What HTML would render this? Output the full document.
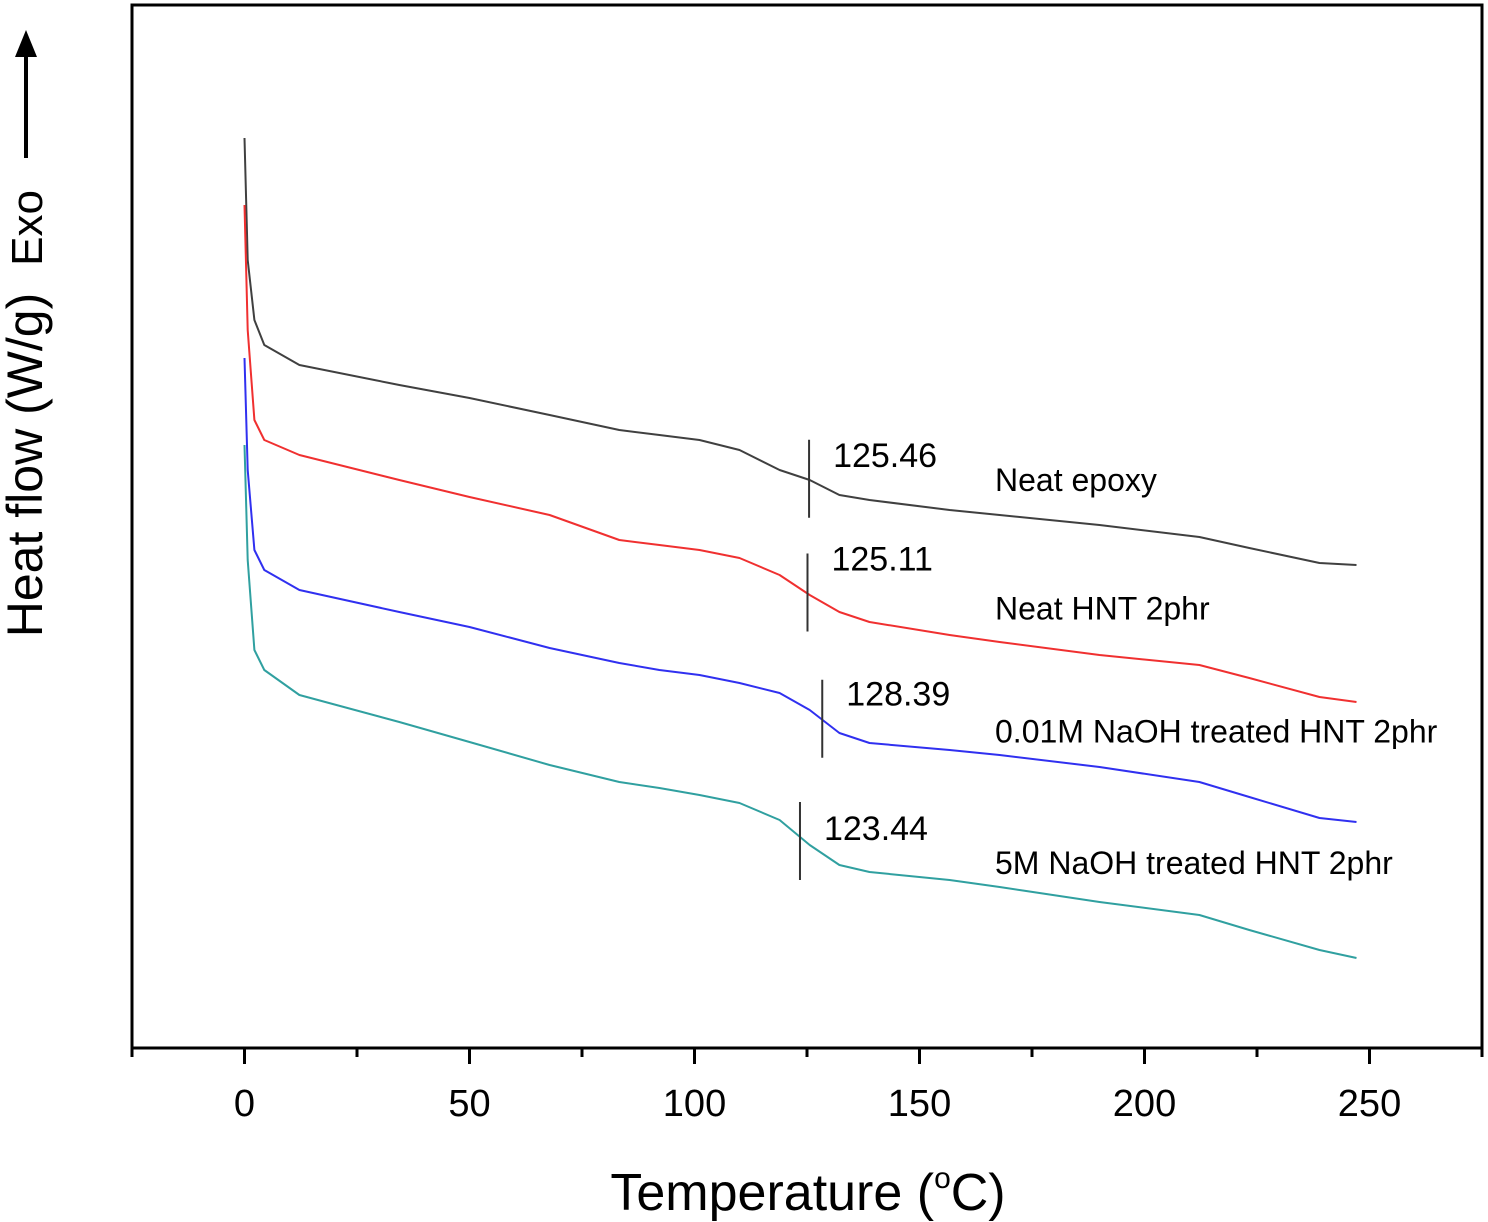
<!DOCTYPE html>
<html><head><meta charset="utf-8">
<style>
html,body{margin:0;padding:0;background:#fff;}
svg{display:block;font-family:"Liberation Sans",Arial,sans-serif;}
</style></head>
<body>
<svg id="chart" width="1488" height="1222" viewBox="0 0 1488 1222" xmlns="http://www.w3.org/2000/svg">
  <rect x="132" y="5" width="1350" height="1043" fill="none" stroke="#000" stroke-width="3"/>
  <g id="xticks"></g>
  <g id="series"></g>
  <g id="annot"></g>
  <text x="808" y="1210" font-size="52" text-anchor="middle">Temperature (<tspan font-size="30" dy="-22">o</tspan><tspan dy="22">C)</tspan></text>
  <text transform="translate(42,465) rotate(-90)" font-size="50" text-anchor="middle">Heat flow (W/g)</text>
  <text transform="translate(42,228) rotate(-90)" font-size="44" text-anchor="middle">Exo</text>
  <line x1="26" y1="158" x2="26" y2="52" stroke="#000" stroke-width="4"/>
  <polygon points="26,30 15,57 37,57" fill="#000"/>
</svg>
<script>
const xTicks = [0, 50, 100, 150, 200, 250];
const minorTicks = [-25, 25, 75, 125, 175, 225, 275];
const temps = [0, 0.7, 2.2, 4.4, 12.2, 34.4, 50, 67.8, 83.3, 92.2, 101.1, 110, 118.9, 125.6, 132.2, 138.9, 156.7, 167.8, 190, 212.2, 223.3, 238.9, 247.1];
const neatEpoxy = [91.0, 78.8, 72.8, 70.3, 68.3, 66.3, 65.0, 63.3, 61.8, 61.3, 60.8, 59.8, 57.8, 56.8, 55.3, 54.8, 53.8, 53.3, 52.3, 51.1, 50.0, 48.5, 48.3];
const neatHNT = [84.3, 71.8, 62.8, 60.8, 59.3, 56.8, 55.1, 53.3, 50.8, 50.3, 49.8, 49.0, 47.3, 45.3, 43.6, 42.6, 41.3, 40.6, 39.3, 38.3, 37.0, 35.1, 34.6];
const naoh001 = [69.0, 57.8, 49.8, 47.8, 45.8, 43.6, 42.1, 40.0, 38.5, 37.8, 37.3, 36.5, 35.5, 33.8, 31.5, 30.5, 29.8, 29.3, 28.1, 26.6, 25.1, 23.0, 22.6];
const naoh5 = [60.3, 48.8, 39.8, 37.8, 35.3, 32.6, 30.6, 28.3, 26.6, 26.0, 25.3, 24.5, 22.8, 20.3, 18.3, 17.6, 16.8, 16.1, 14.6, 13.3, 11.8, 9.8, 9.0];
const seriesNames = ["neat-epoxy", "neat-hnt-2phr", "naoh-0.01m-hnt-2phr", "naoh-5m-hnt-2phr"];
const seriesColors = ["#404040", "#f03030", "#3030f0", "#30a0a0"];
const tgValues = [125.46, 125.11, 128.39, 123.44];
const tgLabels = ["125.46", "125.11", "128.39", "123.44"];
const seriesLabels = ["Neat epoxy", "Neat HNT 2phr", "0.01M NaOH treated HNT 2phr", "5M NaOH treated HNT 2phr"];

const NS = "http://www.w3.org/2000/svg";
const X0 = 132, X1 = 1482, XMIN = -25, XMAX = 275;
const Y0 = 1048, Y1 = 5, YMIN = 0, YMAX = 104.3;
const xs = t => X0 + (t - XMIN) / (XMAX - XMIN) * (X1 - X0);
const ys = v => Y0 - (v - YMIN) / (YMAX - YMIN) * (Y0 - Y1);
const tgTextDy = [-13, -23, -14, 3];
const nameDy = [11, 26, 23, 37];
const markerDy = [0, 0, 0, 5];

const gx = document.getElementById('xticks');
xTicks.forEach(t => {
  const l = document.createElementNS(NS, 'line');
  l.setAttribute('x1', xs(t)); l.setAttribute('x2', xs(t));
  l.setAttribute('y1', 1048); l.setAttribute('y2', 1064);
  l.setAttribute('stroke', '#000'); l.setAttribute('stroke-width', 3);
  
  
  gx.appendChild(l);
  const tx = document.createElementNS(NS, 'text');
  tx.setAttribute('x', xs(t)); tx.setAttribute('y', 1116);
  tx.setAttribute('font-size', 38); tx.setAttribute('text-anchor', 'middle');
  tx.textContent = t;
  
  
  gx.appendChild(tx);
});
minorTicks.forEach(t => {
  const l = document.createElementNS(NS, 'line');
  l.setAttribute('x1', xs(t)); l.setAttribute('x2', xs(t));
  l.setAttribute('y1', 1048); l.setAttribute('y2', 1057);
  l.setAttribute('stroke', '#000'); l.setAttribute('stroke-width', 3);
  
  
  gx.appendChild(l);
});

const gs = document.getElementById('series');
[neatEpoxy, neatHNT, naoh001, naoh5].forEach((vals, i) => {
  const p = document.createElementNS(NS, 'path');
  const d = vals.map((v, j) => (j ? 'L' : 'M') + xs(temps[j]).toFixed(1) + ',' + ys(v).toFixed(1)).join(' ');
  p.setAttribute('d', d);
  p.setAttribute('fill', 'none');
  p.setAttribute('stroke', seriesColors[i]);
  p.setAttribute('stroke-width', 2);
  p.setAttribute('stroke-linejoin', 'round');
  
  
  gs.appendChild(p);
});

const ga = document.getElementById('annot');
const tgMid = [neatEpoxy, neatHNT, naoh001, naoh5].map((vals, i) => {
  const t = tgValues[i];
  let k = 0; while (k < temps.length - 2 && temps[k + 1] < t) k++;
  const f = (t - temps[k]) / (temps[k + 1] - temps[k]);
  return vals[k] + f * (vals[k + 1] - vals[k]);
});
tgValues.forEach((t, i) => {
  const cy = ys(tgMid[i]);
  const l = document.createElementNS(NS, 'line');
  l.setAttribute('x1', xs(t)); l.setAttribute('x2', xs(t));
  l.setAttribute('y1', cy - 40 + markerDy[i]); l.setAttribute('y2', cy + 38 + markerDy[i]);
  l.setAttribute('stroke', '#333'); l.setAttribute('stroke-width', 2);
  
  
  ga.appendChild(l);
  const tx = document.createElementNS(NS, 'text');
  tx.setAttribute('x', xs(t) + 24); tx.setAttribute('y', cy + tgTextDy[i]);
  tx.setAttribute('font-size', 34);
  tx.textContent = tgLabels[i];
  
  
  ga.appendChild(tx);
  const nm = document.createElementNS(NS, 'text');
  nm.setAttribute('x', 995); nm.setAttribute('y', cy + nameDy[i]);
  nm.setAttribute('font-size', 32);
  nm.textContent = seriesLabels[i];
  
  
  ga.appendChild(nm);
});
</script>
</body></html>
